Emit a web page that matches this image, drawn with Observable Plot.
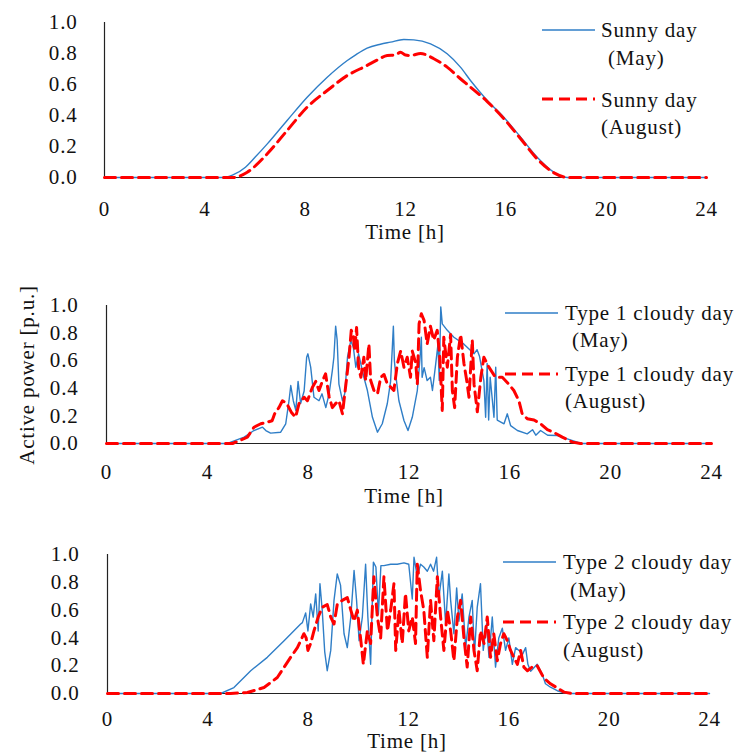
<!DOCTYPE html>
<html><head><meta charset="utf-8">
<script src="https://cdn.jsdelivr.net/npm/d3@7"></script>
<script src="https://cdn.jsdelivr.net/npm/@observablehq/plot@0.6"></script>
<style>
body{margin:0;background:#fff;}
#chart{position:relative;width:739px;height:754px;overflow:hidden;background:#fff;}
#chart > svg{position:absolute;left:0;}
</style></head><body><div id="chart"></div>
<script>
// ---- data: [hour, active power p.u.] ----
const sunnyMay = [[0,0],[4.75,0],[5.1,0.015],[5.62,0.066],[6.0,0.13],[6.49,0.217],[7.28,0.368],[8.08,0.518],[8.88,0.647],[9.68,0.755],[10.0,0.79],[10.47,0.835],[11.0,0.86],[11.4,0.873],[11.93,0.89],[12.33,0.888],[13.0,0.862],[13.66,0.798],[14.19,0.712],[14.59,0.626],[15.26,0.497],[15.92,0.389],[16.59,0.26],[17.25,0.131],[17.92,0.034],[18.45,0],[24,0]];
const sunnyAug = [[0,0],[5.15,0],[5.69,0.034],[6.49,0.153],[7.28,0.303],[8.08,0.454],[8.88,0.561],[9.68,0.658],[10.47,0.723],[10.9,0.76],[11.27,0.787],[11.6,0.79],[11.8,0.808],[12.0,0.79],[12.2,0.787],[12.6,0.80],[13.13,0.766],[13.66,0.712],[14.19,0.637],[14.59,0.583],[15.26,0.49],[15.92,0.38],[16.59,0.25],[17.25,0.12],[17.92,0.03],[18.5,0],[24,0]];
const cloudy1May = [[0,0],[4.8,0],[4.93,0.01],[5.46,0.046],[5.85,0.094],[6.19,0.118],[6.32,0.094],[6.51,0.075],[6.91,0.082],[7.11,0.143],[7.24,0.31],[7.31,0.42],[7.41,0.31],[7.51,0.24],[7.6,0.45],[7.7,0.29],[7.84,0.38],[7.94,0.625],[7.99,0.65],[8.1,0.553],[8.23,0.335],[8.43,0.31],[8.55,0.36],[8.7,0.26],[8.83,0.36],[8.96,0.53],[9.02,0.625],[9.09,0.85],[9.15,0.75],[9.22,0.43],[9.36,0.31],[9.45,0.36],[9.56,0.625],[9.69,0.746],[9.79,0.70],[9.89,0.553],[10.0,0.65],[10.21,0.48],[10.35,0.384],[10.55,0.19],[10.75,0.082],[10.94,0.143],[11.14,0.29],[11.27,0.45],[11.34,0.7],[11.38,0.85],[11.42,0.6],[11.47,0.505],[11.6,0.31],[11.8,0.167],[11.96,0.094],[12.13,0.19],[12.33,0.384],[12.44,0.625],[12.49,0.77],[12.52,0.48],[12.6,0.55],[12.72,0.456],[12.85,0.48],[12.93,0.384],[13.06,0.577],[13.15,0.72],[13.2,0.456],[13.26,0.99],[13.32,0.867],[13.52,0.82],[13.78,0.77],[14.18,0.72],[14.58,0.65],[14.7,0.68],[14.8,0.63],[14.97,0.456],[15.04,0.19],[15.1,0.58],[15.16,0.17],[15.22,0.48],[15.37,0.19],[15.44,0.553],[15.5,0.17],[15.77,0.143],[15.9,0.215],[16.03,0.13],[16.3,0.094],[16.69,0.07],[16.9,0.1],[17.03,0.06],[17.22,0.094],[17.5,0.06],[17.88,0.058],[18.28,0.034],[18.68,0.01],[18.8,0],[24,0]];
const cloudy1Aug = [[0,0],[5.0,0],[5.59,0.046],[5.85,0.118],[6.12,0.143],[6.38,0.155],[6.57,0.165],[6.67,0.215],[6.84,0.26],[6.98,0.31],[7.15,0.29],[7.33,0.227],[7.5,0.19],[7.64,0.29],[7.84,0.335],[7.97,0.31],[8.17,0.408],[8.3,0.45],[8.43,0.384],[8.56,0.45],[8.69,0.505],[8.83,0.34],[8.96,0.26],[9.09,0.29],[9.22,0.31],[9.36,0.215],[9.42,0.31],[9.53,0.48],[9.62,0.625],[9.71,0.82],[9.79,0.79],[9.84,0.67],[9.92,0.84],[10.0,0.553],[10.09,0.48],[10.21,0.625],[10.28,0.456],[10.41,0.72],[10.48,0.456],[10.61,0.384],[10.75,0.36],[10.88,0.48],[11.01,0.5],[11.14,0.43],[11.27,0.41],[11.4,0.384],[11.54,0.58],[11.67,0.67],[11.8,0.553],[11.93,0.625],[12.06,0.48],[12.13,0.67],[12.27,0.58],[12.33,0.43],[12.4,0.867],[12.49,0.94],[12.6,0.89],[12.72,0.72],[12.85,0.85],[12.98,0.75],[13.12,0.82],[13.22,0.625],[13.32,0.24],[13.38,0.77],[13.52,0.553],[13.65,0.79],[13.72,0.384],[13.81,0.26],[13.92,0.625],[14.05,0.79],[14.18,0.58],[14.29,0.456],[14.38,0.335],[14.51,0.75],[14.58,0.43],[14.71,0.23],[14.85,0.48],[14.97,0.625],[15.17,0.553],[15.43,0.48],[15.7,0.48],[15.96,0.43],[16.16,0.384],[16.36,0.31],[16.49,0.215],[16.69,0.18],[16.96,0.17],[17.22,0.143],[17.49,0.1],[17.75,0.08],[18.08,0.046],[18.48,0.01],[18.8,0],[24,0]];
const cloudy2May = [[0,0],[4.51,0],[5.04,0.043],[5.71,0.164],[6.37,0.26],[7.04,0.38],[7.7,0.5],[7.77,0.51],[7.9,0.58],[7.99,0.45],[8.1,0.645],[8.2,0.55],[8.3,0.717],[8.4,0.45],[8.47,0.79],[8.56,0.6],[8.66,0.3],[8.76,0.164],[8.9,0.31],[9.03,0.67],[9.16,0.86],[9.29,0.78],[9.43,0.43],[9.56,0.33],[9.7,0.55],[9.83,0.885],[9.93,0.67],[10.03,0.38],[10.16,0.55],[10.29,0.93],[10.38,0.55],[10.49,0.21],[10.6,0.945],[10.7,0.91],[10.8,0.57],[10.9,0.92],[11.02,0.92],[11.29,0.93],[11.55,0.93],[11.82,0.94],[12.01,0.93],[12.15,0.68],[12.22,0.98],[12.35,0.84],[12.48,0.93],[12.61,0.91],[12.75,0.88],[12.88,0.93],[13.0,0.88],[13.12,0.98],[13.21,0.69],[13.35,0.88],[13.48,0.5],[13.61,0.86],[13.68,0.67],[13.81,0.43],[13.92,0.76],[14.01,0.52],[14.14,0.717],[14.28,0.33],[14.41,0.55],[14.54,0.67],[14.63,0.28],[14.74,0.62],[14.87,0.79],[14.98,0.31],[15.11,0.5],[15.21,0.26],[15.34,0.55],[15.47,0.19],[15.6,0.4],[15.74,0.47],[15.87,0.31],[16.0,0.4],[16.14,0.21],[16.27,0.33],[16.4,0.31],[16.54,0.28],[16.67,0.33],[16.76,0.21],[16.87,0.16],[17.13,0.21],[17.33,0.14],[17.46,0.07],[17.66,0.045],[17.93,0.02],[18.2,0.005],[18.5,0],[24,0]];
const cloudy2Aug = [[0,0],[4.91,0],[5.58,0.007],[6.24,0.043],[6.77,0.115],[7.3,0.26],[7.57,0.33],[7.83,0.43],[7.92,0.4],[7.99,0.31],[8.1,0.36],[8.23,0.45],[8.4,0.55],[8.56,0.62],[8.76,0.64],[8.9,0.55],[9.03,0.5],[9.16,0.64],[9.36,0.67],[9.56,0.69],[9.7,0.6],[9.83,0.52],[9.96,0.6],[10.1,0.38],[10.2,0.21],[10.36,0.45],[10.49,0.36],[10.62,0.84],[10.76,0.55],[10.89,0.4],[11.02,0.84],[11.16,0.45],[11.29,0.6],[11.42,0.79],[11.49,0.31],[11.62,0.6],[11.75,0.36],[11.88,0.72],[12.01,0.45],[12.15,0.55],[12.28,0.36],[12.35,0.93],[12.48,0.74],[12.61,0.6],[12.75,0.26],[12.88,0.67],[13.01,0.38],[13.15,0.84],[13.28,0.55],[13.41,0.31],[13.55,0.6],[13.68,0.45],[13.81,0.236],[13.95,0.55],[14.08,0.67],[14.21,0.4],[14.34,0.19],[14.48,0.55],[14.61,0.31],[14.74,0.164],[14.87,0.45],[15.01,0.36],[15.14,0.55],[15.27,0.26],[15.4,0.43],[15.54,0.236],[15.67,0.36],[15.8,0.43],[15.94,0.38],[16.07,0.31],[16.2,0.26],[16.34,0.21],[16.47,0.31],[16.6,0.19],[16.74,0.164],[16.93,0.19],[17.13,0.2],[17.4,0.11],[17.66,0.07],[17.93,0.04],[18.2,0.01],[18.5,0],[24,0]];

const xTicks = [0, 4, 8, 12, 16, 20, 24];
const yTicks = [0, 0.2, 0.4, 0.6, 0.8, 1.0];
const xTitles = ["Time  [h]", "Time [h]", "Time [h]"];
const yTitle = "Active power [p.u.]";
const legendNames = ["Sunny day", "Type 1 cloudy day", "Type 2 cloudy day"];
const monthMay = "(May)";
const monthAug = "(August)";

// ---- style / layout ----
const BLUE = "#2F7EC7", RED = "#FF0000";
const FONT = "'Liberation Serif','Times New Roman',serif";
const layout = [
  {top:0,   h:250, ml:104, mr:33, mt:22, mb:73, xp:24, yp:27, curve:"monotone-x"},
  {top:260, h:250, ml:106, mr:28, mt:45, mb:67, xp:21, yp:28, curve:"linear"},
  {top:510, h:244, ml:107, mr:30, mt:44, mb:61, xp:18, yp:28, curve:"linear"}
];
const series = [[sunnyMay, sunnyAug], [cloudy1May, cloudy1Aug], [cloudy2May, cloudy2Aug]];
const chart = document.getElementById("chart");

series.forEach(([may, aug], i) => {
  const c = layout[i];
  const svg = Plot.plot({
    width: 739, height: c.h,
    marginLeft: c.ml, marginRight: c.mr, marginTop: c.mt, marginBottom: c.mb,
    x: {domain: [0, 24]},
    y: {domain: [0, 1]},
    style: `font-family:${FONT};font-size:21px;letter-spacing:0.8px;color:#000;background:transparent;overflow:visible;`,
    marks: [
      Plot.axisX(xTicks, {tickSize: 0, tickPadding: c.xp, tickFormat: d => String(d), label: null, fill: "#111"}),
      Plot.axisY(yTicks, {tickSize: 0, tickPadding: c.yp, tickFormat: d => d.toFixed(1), label: null, fill: "#111"}),
      Plot.ruleY([0], {stroke: "#222", strokeWidth: 1.2}),
      Plot.ruleX([0], {stroke: "#222", strokeWidth: 1.2}),
      Plot.line(may, {x: d => d[0], y: d => d[1], stroke: BLUE, strokeWidth: 1.4, curve: c.curve}),
      Plot.line(aug, {x: d => d[0], y: d => d[1], stroke: RED, strokeWidth: 3, strokeDasharray: "11,6", curve: c.curve})
    ]
  });
  svg.style.top = c.top + "px";
  chart.appendChild(svg);
});

// ---- overlay: legends and axis titles ----
const legendPos = [
  {x1:542, x2:595, tx:601, mx:608, ax:601, yb:30, ym:58, yr:99, yt:100, ya:127},
  {x1:505, x2:558, tx:565, mx:572, ax:565, yb:313, ym:340, yr:374, yt:374, ya:401},
  {x1:503, x2:556, tx:563, mx:570, ax:563, yb:562, ym:590, yr:622, yt:622, ya:650}
];
const xTitlePos = [[405, 239], [404, 503], [407, 748]];
const ov = d3.create("svg").attr("width", 739).attr("height", 754)
  .style("top", "0px").style("pointer-events", "none")
  .style("font-family", FONT).style("font-size", "21px").style("letter-spacing", "0.8px")
  .style("white-space", "pre");
const B = 7;
legendPos.forEach((p, i) => {
  ov.append("line").attr("x1", p.x1).attr("x2", p.x2).attr("y1", p.yb).attr("y2", p.yb)
    .attr("stroke", BLUE).attr("stroke-width", 1.4);
  ov.append("text").attr("x", p.tx).attr("y", p.yb + B).attr("fill", "#111").text(legendNames[i]);
  ov.append("text").attr("x", p.mx).attr("y", p.ym + B).attr("fill", "#111").text(monthMay);
  ov.append("line").attr("x1", p.x1).attr("x2", p.x2).attr("y1", p.yr).attr("y2", p.yr)
    .attr("stroke", RED).attr("stroke-width", 3).attr("stroke-dasharray", "11,6");
  ov.append("text").attr("x", p.tx).attr("y", p.yt + B).attr("fill", "#111").text(legendNames[i]);
  ov.append("text").attr("x", p.ax).attr("y", p.ya + B).attr("fill", "#111").text(monthAug);
  ov.append("text").attr("x", xTitlePos[i][0]).attr("y", xTitlePos[i][1]).attr("text-anchor", "middle")
    .attr("fill", "#111").text(xTitles[i]);
});
ov.append("text").attr("transform", "translate(34,375) rotate(-90)").attr("text-anchor", "middle")
  .attr("fill", "#111").text(yTitle);
chart.appendChild(ov.node());
</script></body></html>
